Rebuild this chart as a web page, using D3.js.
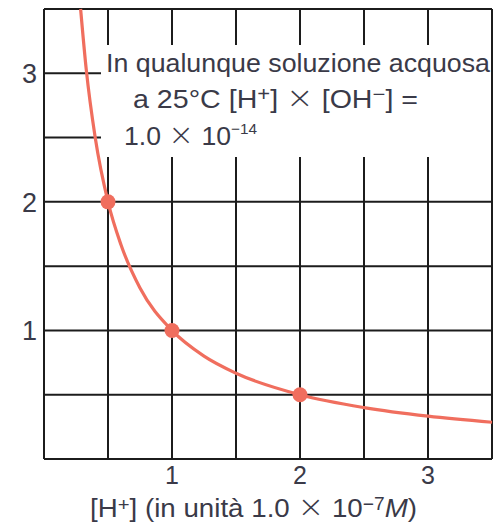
<!DOCTYPE html>
<html><head><meta charset="utf-8">
<script src="https://cdn.jsdelivr.net/npm/d3@7"></script>
<style>html,body{margin:0;padding:0;background:#fff;}svg{display:block;}</style>
</head><body>
<script>
// Curve points ([H+] vs [OH-], units 1.0e-7 M)
const curveX = [0.286, 0.33, 0.4, 0.5, 0.6, 0.75, 1.0, 1.25, 1.5, 2.0, 2.5, 3.0, 3.5];
const curveY = [3.5, 3.03, 2.5, 2.0, 1.67, 1.33, 1.0, 0.8, 0.667, 0.5, 0.4, 0.333, 0.286];
// Highlighted points
const pointX = [0.5, 1, 2];
const pointY = [2, 1, 0.5];
// Tick labels
const xTicks = [1, 2, 3];
const yTicks = [1, 2, 3];
const gridSteps = [0, 0.5, 1, 1.5, 2, 2.5, 3, 3.5];

const W = 504, H = 527;
const svg = d3.select("body").append("svg").attr("width", W).attr("height", H);
const x = d3.scaleLinear().domain([0, 3.5]).range([44, 492]);
const y = d3.scaleLinear().domain([0, 3.5]).range([459, 9]);
const textCol = "#3a3a48";
const font = "'Liberation Sans', Arial, sans-serif";

// grid
const g = svg.append("g").attr("stroke", "#1c1c1c").attr("stroke-width", 2);
g.selectAll("line.v").data(gridSteps).join("line")
  .attr("x1", d => x(d)).attr("x2", d => x(d)).attr("y1", y(0)).attr("y2", y(3.5));
g.selectAll("line.h").data(gridSteps).join("line")
  .attr("y1", d => y(d)).attr("y2", d => y(d)).attr("x1", x(0)).attr("x2", x(3.5));

// white box for annotation
svg.append("rect").attr("x", 101).attr("y", 45).attr("width", x(3.5) - 102).attr("height", 112).attr("fill", "#fff");

// curve
const line = d3.line().x(d => x(d[0])).y(d => y(d[1])).curve(d3.curveMonotoneX);
svg.append("path").datum(d3.zip(curveX, curveY)).attr("d", line)
  .attr("fill", "none").attr("stroke", "#f06e5e").attr("stroke-width", 3.2);
svg.selectAll("circle.p").data(d3.zip(pointX, pointY)).join("circle")
  .attr("cx", d => x(d[0])).attr("cy", d => y(d[1])).attr("r", 7.5).attr("fill", "#f06e5e");

// tick labels
svg.selectAll("text.xt").data(xTicks).join("text")
  .attr("x", d => x(d)).attr("y", 484).attr("text-anchor", "middle")
  .attr("font-family", font).attr("font-size", 25).attr("fill", textCol).text(d => d);
svg.selectAll("text.yt").data(yTicks).join("text")
  .attr("x", 37).attr("y", d => y(d) + 10).attr("text-anchor", "end")
  .attr("font-family", font).attr("font-size", 27).attr("fill", textCol).text(d => d);

function addText(xp, yp, parts, len) {
  const t = svg.append("text").attr("x", xp).attr("y", yp)
    .attr("font-family", font).attr("font-size", 26).attr("fill", textCol);
  parts.forEach(p => {
    const s = t.append("tspan").text(p.t);
    if (p.sup) s.attr("baseline-shift", p.shift || 9).attr("font-size", p.fs || 17);
    if (p.it) s.attr("font-style", "italic");
    if (p.times) s.attr("font-size", 30).attr("font-family", "'DejaVu Sans', sans-serif").attr("font-weight", 200);
  });
  if (len) t.attr("textLength", len).attr("lengthAdjust", "spacingAndGlyphs");
  return t;
}
addText(106, 72, [{t: "In qualunque soluzione acquosa"}], 384);
addText(133, 108, [{t: "a 25°C [H"}, {t: "+", sup: true, fs: 20, shift: 7}, {t: "] "}, {t: "×", times: true}, {t: " [OH"}, {t: "−", sup: true, fs: 20, shift: 7}, {t: "] ="}], 285);
addText(124, 145, [{t: "1.0 "}, {t: "×", times: true}, {t: " 10"}, {t: "−14", sup: true, fs: 15, shift: 11}], 133);
addText(90, 517, [{t: "[H"}, {t: "+", sup: true, fs: 19, shift: 6}, {t: "] (in unità 1.0 "}, {t: "×", times: true}, {t: " 10"}, {t: "−7", sup: true, fs: 18, shift: 7}, {t: "M", it: true}, {t: ")"}], 327);
</script>
</body></html>
